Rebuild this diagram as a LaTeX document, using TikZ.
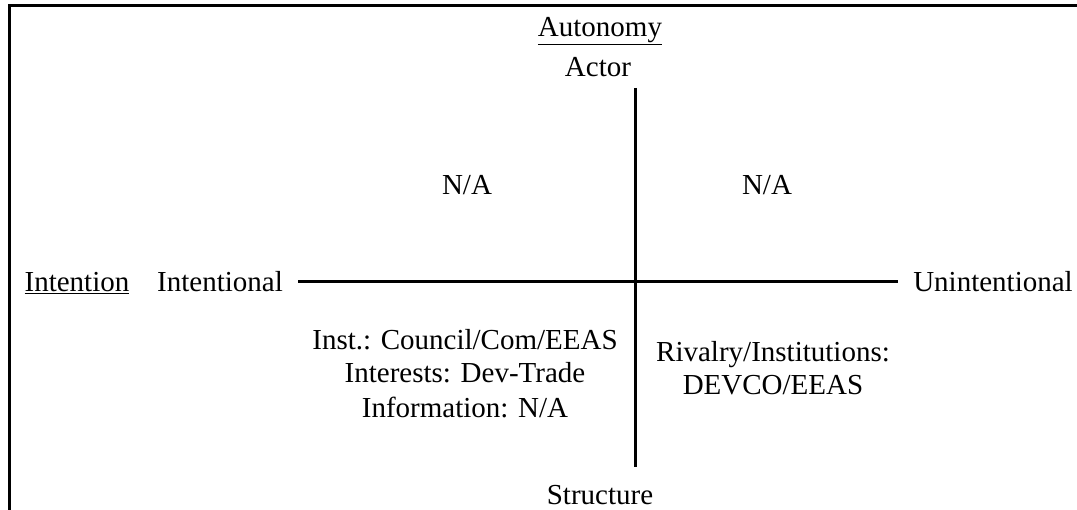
\documentclass[tikz,border=0pt]{standalone}
\usepackage{fontspec}
\setmainfont{Liberation Serif}
\begin{document}
\begin{tikzpicture}[x=1pt,y=1pt,
  lbl/.style={inner sep=0pt,anchor=base,font=\fontsize{29}{34}\selectfont},
  axis/.style={line width=3pt},
  frame/.style={line width=3pt}]
\useasboundingbox (0,0) rectangle (1077,510);
% frame (top and left only)
\coordinate (fbl) at (9.5,0);
\coordinate (ftl) at (9.5,504.7);
\coordinate (ftr) at (1080,504.7);
\draw[frame] (fbl) -- (ftl) -- (ftr);
% axes
\coordinate (vtop) at (635,422);
\coordinate (vbot) at (635,43);
\coordinate (hl) at (298,228);
\coordinate (hr) at (898,228);
\draw[axis] (vtop) -- (vbot);
\draw[axis] (hl) -- (hr);
% labels
\node[lbl] (autonomy) at (600,473) {\underline{Autonomy}};
\node[lbl] (actor) at (598,433) {Actor};
\node[lbl] (na1) at (467,315) {N/A};
\node[lbl] (na2) at (767,315) {N/A};
\node[lbl] (intention) at (77,218) {\underline{Intention}};
\node[lbl] (intentional) at (220,218) {Intentional};
\node[lbl] (unintentional) at (993,218) {Unintentional};
\node[lbl] (ll1) at (465,160) {Inst.: Council/Com/EEAS};
\node[lbl] (ll2) at (465,127) {Interests: Dev-Trade};
\node[lbl] (ll3) at (465,92) {Information: N/A};
\node[lbl] (lr1) at (773,148) {Rivalry/Institutions:};
\node[lbl] (lr2) at (773,115) {DEVCO/EEAS};
\node[lbl] (structure) at (600,5) {Structure};
\end{tikzpicture}
\end{document}
